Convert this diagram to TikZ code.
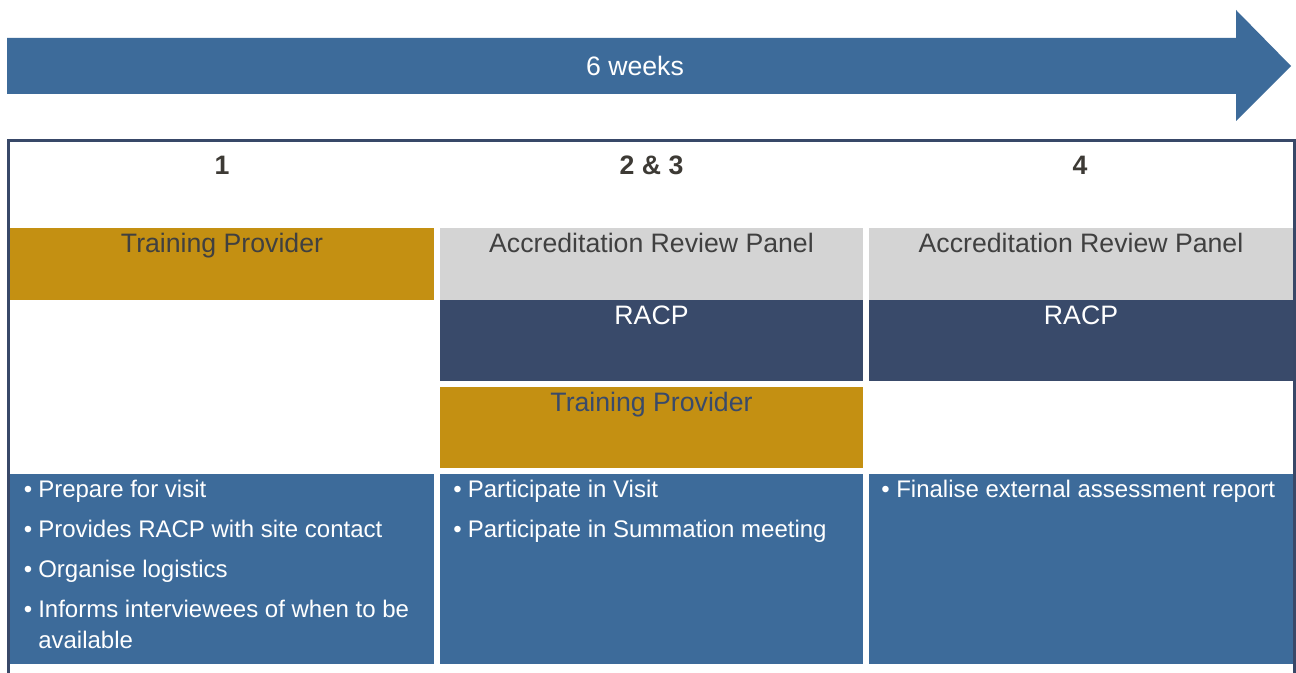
\documentclass[tikz,border=0pt]{standalone}
\usepackage{fontspec}
\setmainfont{Liberation Sans}
\usetikzlibrary{fit,calc}
\definecolor{arrowblue}{HTML}{3D6B9A}
\definecolor{itemblue}{HTML}{3D6B9A}
\definecolor{gold}{HTML}{C49012}
\definecolor{lgray}{HTML}{D4D4D4}
\definecolor{navy}{HTML}{394A6A}
\definecolor{framec}{HTML}{384868}
\definecolor{darktext}{HTML}{404040}
\definecolor{headtext}{HTML}{3D3A35}
\begin{document}
\begin{tikzpicture}[x=0.75pt,y=-0.75pt,
  cell/.style={inner sep=0pt, outer sep=0pt, draw=none},
  ttl/.style={anchor=base, font=\fontsize{20}{24}\selectfont, inner sep=0pt},
  hdr/.style={anchor=base, font=\bfseries\fontsize{20}{24}\selectfont, text=headtext, inner sep=0pt},
  itm/.style={anchor=base west, font=\fontsize{18}{22}\selectfont, text=white, inner sep=0pt},
  bul/.style={anchor=base, font=\fontsize{18}{22}\selectfont, text=white, inner sep=0pt}]
\useasboundingbox (0,0) rectangle (1296,673);
\clip (0,0) rectangle (1296,673);
\fill[white] (0,0) rectangle (1296,673);

% timeline arrow
\fill[arrowblue] (7,38) -- (1236,38) -- (1236,10) -- (1291,66) -- (1236,121) -- (1236,94) -- (7,94) -- cycle;
\node[anchor=base, font=\fontsize{20}{24}\selectfont, text=white, inner sep=0pt] (weeks) at (635,76) {6 weeks};

% frame
\draw[framec, line width=2.25pt] (8.5,720) -- (8.5,140.5) -- (1294.5,140.5) -- (1294.5,720);

% headers
\node[hdr] (h1) at (222,175) {1};
\node[hdr] (h2) at (651.5,175) {2 \& 3};
\node[hdr] (h3) at (1080,175) {4};

% column 1
\node[cell, fill=gold, fit={(10,228) (434,300)}] (tp1) {};
\node[ttl, text=darktext] (tp1t) at ($(tp1.north)+(0,25)$) {Training Provider};
\node[cell, fill=itemblue, fit={(10,474) (434,664)}] (it1) {};

% column 2
\node[cell, fill=lgray, fit={(440,228) (863,300)}] (arp2) {};
\node[ttl, text=darktext] (arp2t) at ($(arp2.north)+(0,25)$) {Accreditation Review Panel};
\node[cell, fill=navy, fit={(440,300) (863,381)}] (racp2) {};
\node[ttl, text=white] (racp2t) at ($(racp2.north)+(0,25)$) {RACP};
\node[cell, fill=gold, fit={(440,387) (863,468)}] (tp2) {};
\node[ttl, text=navy] (tp2t) at ($(tp2.north)+(0,25)$) {Training Provider};
\node[cell, fill=itemblue, fit={(440,474) (863,664)}] (it2) {};

% column 3
\node[cell, fill=lgray, fit={(869,228) (1293,300)}] (arp3) {};
\node[ttl, text=darktext] (arp3t) at ($(arp3.north)+(0,25)$) {Accreditation Review Panel};
\node[cell, fill=navy, fit={(869,300) (1293,381)}] (racp3) {};
\node[ttl, text=white] (racp3t) at ($(racp3.north)+(0,25)$) {RACP};
\node[cell, fill=itemblue, fit={(869,474) (1293,664)}] (it3) {};

% bullets column 1
\node[bul] (d1a) at ($(it1.north west)+(18,23)$) {•};
\node[itm] (t1a) at ($(it1.north west)+(28,23)$) {Prepare for visit};
\node[bul] (d1b) at ($(it1.north west)+(18,63)$) {•};
\node[itm] (t1b) at ($(it1.north west)+(28,63)$) {Provides RACP with site contact};
\node[bul] (d1c) at ($(it1.north west)+(18,103)$) {•};
\node[itm] (t1c) at ($(it1.north west)+(28,103)$) {Organise logistics};
\node[bul] (d1d) at ($(it1.north west)+(18,143)$) {•};
\node[itm] (t1d) at ($(it1.north west)+(28,143)$) {Informs interviewees of when to be};
\node[itm] (t1e) at ($(it1.north west)+(28,174)$) {available};

% bullets column 2
\node[bul] (d2a) at ($(it2.north west)+(17.5,23)$) {•};
\node[itm] (t2a) at ($(it2.north west)+(27.5,23)$) {Participate in Visit};
\node[bul] (d2b) at ($(it2.north west)+(17.5,63)$) {•};
\node[itm] (t2b) at ($(it2.north west)+(27.5,63)$) {Participate in Summation meeting};

% bullets column 3
\node[bul] (d3a) at ($(it3.north west)+(16.5,23)$) {•};
\node[itm] (t3a) at ($(it3.north west)+(27,23)$) {Finalise external assessment report};
\end{tikzpicture}
\end{document}
